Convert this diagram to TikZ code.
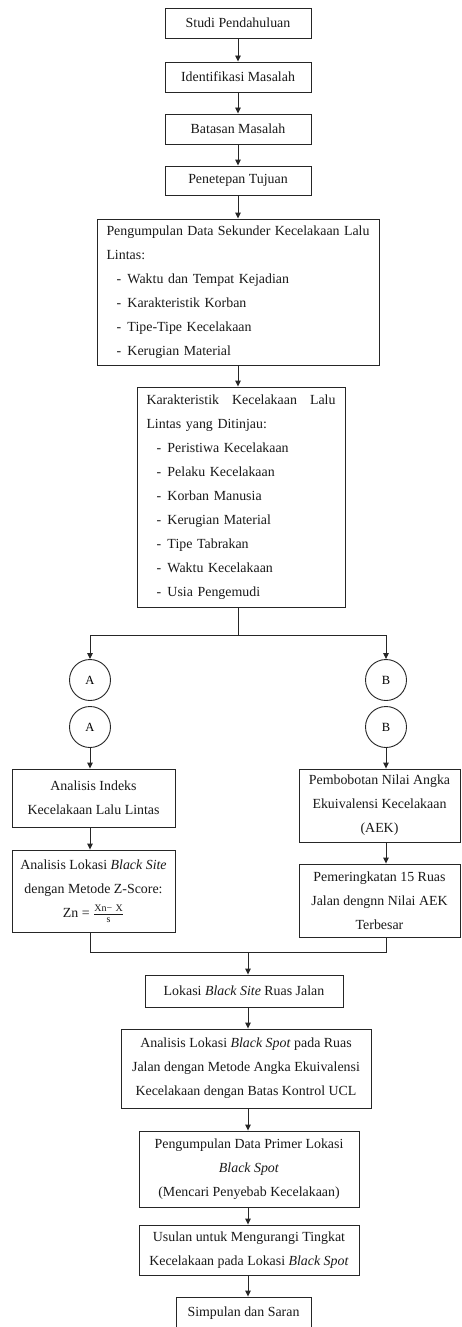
\documentclass[tikz,border=0pt]{standalone}
\usepackage{fontspec}
\setmainfont{Liberation Serif}
\usetikzlibrary{arrows.meta}
\tikzset{
  box/.style={draw=black!85, line width=0.9pt, inner sep=0pt, align=center, text=black!90,
              font=\fontsize{13.9}{24}\selectfont},
  conn/.style={draw=black!85, line width=0.9pt, circle, minimum size=41pt, inner sep=0pt,
              font=\fontsize{12.5}{15}\selectfont},
  arr/.style={-{Triangle[length=6pt,width=5.5pt]}, line width=0.9pt, draw=black!85},
  ln/.style={line width=0.9pt, draw=black!85}
}
\newcommand{\itm}[1]{\hspace*{10pt}\makebox[11pt][l]{-}#1}
\newcommand{\frx}[1]{\mbox{\fontsize{10}{11}\selectfont #1}}
\begin{document}
\begin{tikzpicture}[x=1pt,y=-1pt]
\useasboundingbox (0,0) rectangle (461,1327);
\clip (0,0) rectangle (461,1327);
\fill[white] (0,0) rectangle (461,1327);

\node[box, minimum width=146pt, minimum height=30pt] (b1) at (238,23) {Studi Pendahuluan};
\node[box, minimum width=146pt, minimum height=30pt] (b2) at (238,77) {Identifikasi Masalah};
\node[box, minimum width=146pt, minimum height=30pt] (b3) at (238,129) {Batasan Masalah};
\node[box, minimum width=146pt, minimum height=29pt] (b4) at (238,180.5) {Penetepan Tujuan};

\node[box, minimum width=282pt, minimum height=146pt, text width=263pt, align=left] (b5) at (238,292)
 {\makebox[263pt][l]{Pengumpulan\hfill Data\hfill Sekunder\hfill Kecelakaan\hfill Lalu}\\
  Lintas:\\
  \itm{Waktu dan Tempat Kejadian}\\
  \itm{Karakteristik Korban}\\
  \itm{Tipe-Tipe Kecelakaan}\\
  \itm{Kerugian Material}};

\node[box, minimum width=208pt, minimum height=220pt, text width=189pt, align=left] (b6) at (241,497)
 {\makebox[189pt][l]{Karakteristik\hfill Kecelakaan\hfill Lalu}\\
  Lintas yang Ditinjau:\\
  \itm{Peristiwa Kecelakaan}\\
  \itm{Pelaku Kecelakaan}\\
  \itm{Korban Manusia}\\
  \itm{Kerugian Material}\\
  \itm{Tipe Tabrakan}\\
  \itm{Waktu Kecelakaan}\\
  \itm{Usia Pengemudi}};

\node[conn] (a1) at (90,680) {A};
\node[conn] (a2) at (90,727) {A};
\node[conn] (c1) at (386,680) {B};
\node[conn] (c2) at (386,727) {B};

\node[box, minimum width=163pt, minimum height=58pt] (l1) at (93.5,798)
 {Analisis Indeks\\Kecelakaan Lalu Lintas};
\node[box, minimum width=163pt, minimum height=82pt] (l2) at (93.5,891)
 {Analisis Lokasi \textit{Black Site}\\dengan Metode Z-Score:\\
  Zn = $\frac{\frx{Xn−\,\,X}}{\frx{s}}$};

\node[box, minimum width=161pt, minimum height=73pt] (r1) at (379.5,805.5)
 {Pembobotan Nilai Angka\\Ekuivalensi Kecelakaan\\(AEK)};
\node[box, minimum width=161pt, minimum height=73pt] (r2) at (379.5,900.5)
 {Pemeringkatan 15 Ruas\\Jalan dengnn Nilai AEK\\Terbesar};

\node[box, minimum width=198pt, minimum height=32pt] (b7) at (244,991)
 {Lokasi \textit{Black Site} Ruas Jalan};
\node[box, minimum width=250pt, minimum height=79pt] (b8) at (246,1068.5)
 {Analisis Lokasi \textit{Black Spot} pada Ruas\\Jalan dengan Metode Angka Ekuivalensi\\Kecelakaan dengan Batas Kontrol UCL};
\node[box, minimum width=220pt, minimum height=76pt] (b9) at (249,1169)
 {Pengumpulan Data Primer Lokasi\\\textit{Black Spot}\\(Mencari Penyebab Kecelakaan)};
\node[box, minimum width=220pt, minimum height=50pt] (b10) at (249,1250)
 {Usulan untuk Mengurangi Tingkat\\Kecelakaan pada Lokasi \textit{Black Spot}};
\node[box, minimum width=135pt, minimum height=32pt] (b11) at (243.5,1313)
 {Simpulan dan Saran};

% upper chain
\draw[arr] (b1.south) -- (b2.north);
\draw[arr] (b2.south) -- (b3.north);
\draw[arr] (b3.south) -- (b4.north);
\draw[arr] (b4.south) -- (b5.north);
\draw[arr] (b5.south) -- (b5.south |- b6.north);

% branch
\coordinate (split) at (238,635);
\draw[ln] (b6.south -| split) -- (split);
\draw[arr] (split) -| (a1.north);
\draw[arr] (split) -| (c1.north);

% left column
\draw[arr] (a2.south) -- (a2.south |- l1.north);
\draw[arr] (l1.south -| a2) -- (l2.north -| a2);
% right column
\draw[arr] (c2.south) -- (c2.south |- r1.north);
\draw[arr] (r1.south -| c2) -- (r2.north -| c2);

% merge
\coordinate (mL) at (90,952);
\coordinate (mR) at (386,952);
\coordinate (m) at (248,952);
\draw[ln] (l2.south -| mL) -- (mL) -- (mR) -- (r2.south -| mR);
\draw[arr] (m) -- (m |- b7.north);

% lower chain
\draw[arr] (b7.south -| m) -- (b8.north -| m);
\draw[arr] (b8.south -| m) -- (b9.north -| m);
\draw[arr] (b9.south -| m) -- (b10.north -| m);
\draw[arr] (b10.south -| m) -- (b11.north -| m);
\end{tikzpicture}
\end{document}
